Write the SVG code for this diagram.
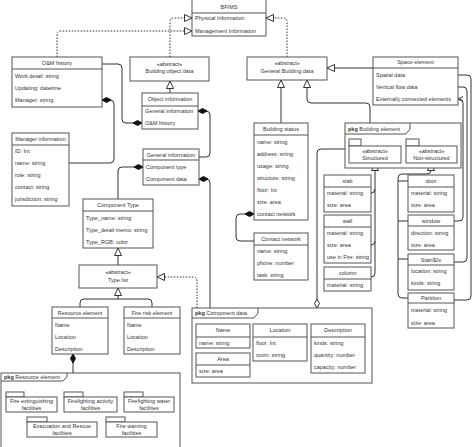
<svg xmlns="http://www.w3.org/2000/svg" width="474" height="447" viewBox="0 0 474 447">
<style>
.b{fill:#fff;stroke:#555;stroke-width:1}
.h{fill:none;stroke:#555;stroke-width:1}
.t{font-family:"Liberation Sans",Arial,sans-serif;font-size:5.5px;fill:#333}
.c{text-anchor:middle}
.k{font-weight:bold}
.ln{fill:none;stroke:#333;stroke-width:1}
.d{stroke-dasharray:1.5,1.5}
.ti{marker-end:url(#tri)}
.di{marker-start:url(#dia)}
</style>
<defs>
<marker id="tri" markerUnits="userSpaceOnUse" markerWidth="10" markerHeight="9" viewBox="0 0 10 9" refX="8.5" refY="4.5" orient="auto"><path d="M1,1 L8.5,4.5 L1,8 Z" fill="#fff" stroke="#333" stroke-width="1"/></marker>
<marker id="dia" markerUnits="userSpaceOnUse" markerWidth="11" markerHeight="7" viewBox="0 0 11 7" refX="0.5" refY="3.5" orient="auto"><path d="M0.5,3.5 L5,1 L9.5,3.5 L5,6 Z" fill="#111" stroke="#111" stroke-width="1"/></marker>
<marker id="odia" markerUnits="userSpaceOnUse" markerWidth="11" markerHeight="7" viewBox="0 0 11 7" refX="0.5" refY="3.5" orient="auto"><path d="M0.5,3.5 L5,1 L9.5,3.5 L5,6 Z" fill="#fff" stroke="#333" stroke-width="1"/></marker>
<marker id="arr" markerUnits="userSpaceOnUse" markerWidth="8" markerHeight="8" viewBox="0 0 8 8" refX="7" refY="4" orient="auto"><path d="M2,1.5 L7,4 L2,6.5" fill="none" stroke="#333" stroke-width="1"/></marker>
</defs>

<g id="connectors">
<path class="ln d ti" d="M57,57 V35 Q57,31 61,31 H192"/>
<path class="ln d ti" d="M170,57 V22 Q170,18 174,18 H192"/>
<path class="ln d ti" d="M287,57 V22 Q287,18 283,18 H266"/>
<path class="ln ti" d="M170,93 V81"/>
<path class="ln di" d="M142,123 H126 Q122,123 122,119 V68 Q122,64 118,64 H102"/>
<path class="ln di" d="M102,100 H110 Q114,100 114,104 V159 Q114,163 110,163 H69"/>
<path class="ln di" d="M198,111 H206 Q210,111 210,115 V153 Q210,157 206,157 H199"/>
<path class="ln di" d="M143,167 H122 Q118,167 118,171 V199"/>
<path class="ln di" d="M199,179 H206 Q210,179 210,183 V308"/>
<path class="ln ti" d="M118,265 V248"/>
<path class="ln" d="M80,307 V303 Q80,299 84,299 H148 Q152,299 152,303 V307"/>
<path class="ln ti" d="M118,299 V288"/>
<path class="ln d ti" d="M197,308 V281 Q197,277 193,277 H157"/>
<path class="ln di" d="M73,354 V373"/>
<path class="ln ti" d="M373,68 H327"/>
<path class="ln ti" d="M281,123 V80"/>
<path class="ln ti" d="M370,123 V107 Q370,103 366,103 H311 Q307,103 307,99 V80"/>
<path class="ln di" d="M254,214 H240 Q236,214 236,218 V237 Q236,241 240,241 H254"/>
<path class="ln" style="marker-start:url(#odia)" d="M317,308 V153 Q317,149 321,149 H345"/>
<path class="ln ti" d="M371,277 Q375,277 375,273 V163"/>
<path class="ln" d="M371,193 Q375,193 375,189"/>
<path class="ln" d="M371,245 Q375,245 375,241"/>
<path class="ln ti" d="M408,298 H402 Q398,298 398,294 V178 Q398,174 402,174 H427 Q431,174 431,170 V163"/>
<path class="ln" d="M398,181 H408"/>
<path class="ln" d="M398,221 H408"/>
<path class="ln" d="M398,259 H408"/>
<path class="ln" style="marker-end:url(#arr)" d="M454,221 H459 Q463,221 463,217 V103 Q463,99 459,99 H458"/>
<path class="ln" d="M454,262 H463 Q467,262 467,258 V91 Q467,87 463,87 H458"/>
<path class="ln" d="M454,300 H467 Q471,300 471,296 V79 Q471,75 467,75 H458"/>
</g>

<g id="bfims">
<rect class="b" x="192" y="-1" width="74" height="37"/>
<line class="h" x1="192" y1="13" x2="266" y2="13"/>
<text class="t c" x="229" y="9">BFIMS</text>
<text class="t" x="195" y="20">Physical Information</text>
<text class="t" x="195" y="33">Management Information</text>
</g>

<g id="om-history">
<rect class="b" x="12" y="57" width="90" height="50"/>
<line class="h" x1="12" y1="69" x2="102" y2="69"/>
<text class="t c" x="57" y="65">O&amp;M history</text>
<text class="t" x="15" y="78">Work detail: string</text>
<text class="t" x="15" y="90">Updating: datetime</text>
<text class="t" x="15" y="102">Manager: string</text>
</g>

<g id="building-object-data">
<rect class="b" x="130" y="57" width="79" height="24"/>
<text class="t c" x="169.5" y="66">«abstract»</text>
<text class="t c" x="169.5" y="73">Building object data</text>
</g>

<g id="object-information">
<rect class="b" x="142" y="93" width="56" height="36"/>
<line class="h" x1="142" y1="106" x2="198" y2="106"/>
<text class="t c" x="170" y="101">Object information</text>
<text class="t" x="145" y="113">General information</text>
<text class="t" x="145" y="125">O&amp;M history</text>
</g>

<g id="manager-information">
<rect class="b" x="12" y="133" width="57" height="73"/>
<line class="h" x1="12" y1="145" x2="69" y2="145"/>
<text class="t c" x="40.5" y="141">Manager information</text>
<text class="t" x="15" y="153">ID: Int</text>
<text class="t" x="15" y="165">name: string</text>
<text class="t" x="15" y="177">role: string</text>
<text class="t" x="15" y="189">contact: string</text>
<text class="t" x="15" y="201">jurisdiction: string</text>
</g>

<g id="general-information">
<rect class="b" x="143" y="149" width="56" height="36"/>
<line class="h" x1="143" y1="160" x2="199" y2="160"/>
<text class="t c" x="171" y="157">General information</text>
<text class="t" x="146" y="169">Component type</text>
<text class="t" x="146" y="181">Component data</text>
</g>

<g id="component-type">
<rect class="b" x="83" y="199" width="70" height="49"/>
<line class="h" x1="83" y1="211" x2="153" y2="211"/>
<text class="t c" x="118" y="207">Component Type</text>
<text class="t" x="86" y="220">Type_name: string</text>
<text class="t" x="86" y="232">Type_detail memo: string</text>
<text class="t" x="86" y="244">Type_RGB: color</text>
</g>

<g id="type-list">
<rect class="b" x="79" y="265" width="78" height="23"/>
<text class="t c" x="118" y="274">«abstract»</text>
<text class="t c" x="118" y="282">Type list</text>
</g>

<g id="resource-element">
<rect class="b" x="52" y="307" width="56" height="47"/>
<line class="h" x1="52" y1="318" x2="108" y2="318"/>
<text class="t c" x="80" y="315">Resource element</text>
<text class="t" x="55" y="327">Name</text>
<text class="t" x="55" y="339">Location</text>
<text class="t" x="55" y="351">Description</text>
</g>

<g id="fire-risk-element">
<rect class="b" x="124" y="307" width="56" height="47"/>
<line class="h" x1="124" y1="318" x2="180" y2="318"/>
<text class="t c" x="152" y="315">Fire risk element</text>
<text class="t" x="127" y="327">Name</text>
<text class="t" x="127" y="339">Location</text>
<text class="t" x="127" y="351">Description</text>
</g>

<g id="pkg-resource-element">
<rect class="b" x="1" y="373" width="179" height="80"/>
<path class="h" d="M1,381 H63 L67,377 V373"/>
<text class="t" x="4" y="379"><tspan class="k">pkg</tspan> Resource element</text>
<rect class="b" x="6" y="392" width="18" height="5"/>
<rect class="b" x="6" y="397" width="51" height="15"/>
<text class="t c" x="31.5" y="403">Fire extinguishing</text>
<text class="t c" x="31.5" y="410">facilities</text>
<rect class="b" x="64" y="392" width="19" height="5"/>
<rect class="b" x="64" y="397" width="53" height="15"/>
<text class="t c" x="90.5" y="403">Firefighting activity</text>
<text class="t c" x="90.5" y="410">facilities</text>
<rect class="b" x="124" y="392" width="19" height="5"/>
<rect class="b" x="124" y="397" width="50" height="15"/>
<text class="t c" x="149" y="403">Firefighting water</text>
<text class="t c" x="149" y="410">facilities</text>
<rect class="b" x="27" y="417" width="20" height="5"/>
<rect class="b" x="27" y="422" width="70" height="15"/>
<text class="t c" x="62" y="428">Evacuation and Rescue</text>
<text class="t c" x="62" y="435">facilities</text>
<rect class="b" x="106" y="417" width="19" height="5"/>
<rect class="b" x="106" y="422" width="51" height="15"/>
<text class="t c" x="131.5" y="428">Fire warning</text>
<text class="t c" x="131.5" y="435">facilities</text>
</g>

<g id="pkg-component-data">
<rect class="b" x="192" y="308" width="180" height="75"/>
<path class="h" d="M192,318 H254 L258,313 V308"/>
<text class="t" x="195" y="315"><tspan class="k">pkg</tspan> Component data</text>
<rect class="b" x="196" y="324" width="54" height="24"/>
<line class="h" x1="196" y1="337" x2="250" y2="337"/>
<text class="t c" x="223" y="332">Name</text>
<text class="t" x="199" y="345">name: string</text>
<rect class="b" x="196" y="353" width="54" height="24"/>
<line class="h" x1="196" y1="365" x2="250" y2="365"/>
<text class="t c" x="223" y="361">Area</text>
<text class="t" x="199" y="373">size: area</text>
<rect class="b" x="253" y="324" width="54" height="37"/>
<line class="h" x1="253" y1="337" x2="307" y2="337"/>
<text class="t c" x="280" y="332">Location</text>
<text class="t" x="256" y="345">floor: Int</text>
<text class="t" x="256" y="357">room: string</text>
<rect class="b" x="311" y="324" width="54" height="49"/>
<line class="h" x1="311" y1="337" x2="365" y2="337"/>
<text class="t c" x="338" y="332">Description</text>
<text class="t" x="314" y="345">kinds: string</text>
<text class="t" x="314" y="357">quantity: number</text>
<text class="t" x="314" y="369">capacity: number</text>
</g>

<g id="general-building-data">
<rect class="b" x="247" y="57" width="80" height="23"/>
<text class="t c" x="287" y="65">«abstract»</text>
<text class="t c" x="287" y="73">General Building data</text>
</g>

<g id="space-element">
<rect class="b" x="373" y="57" width="85" height="48"/>
<line class="h" x1="373" y1="68" x2="458" y2="68"/>
<text class="t c" x="415.5" y="64">Space element</text>
<text class="t" x="376" y="77">Spatial data</text>
<text class="t" x="376" y="89">Vertical flow data</text>
<text class="t" x="376" y="101">Externally connected elements</text>
</g>

<g id="building-status">
<rect class="b" x="254" y="123" width="54" height="97"/>
<line class="h" x1="254" y1="135" x2="308" y2="135"/>
<text class="t c" x="281" y="131">Building status</text>
<text class="t" x="257" y="144">name: string</text>
<text class="t" x="257" y="156">address: string</text>
<text class="t" x="257" y="168">usage: string</text>
<text class="t" x="257" y="180">structure: string</text>
<text class="t" x="257" y="192">floor: Int</text>
<text class="t" x="257" y="204">size: area</text>
<text class="t" x="257" y="216">contact network</text>
</g>

<g id="contact-network">
<rect class="b" x="254" y="233" width="54" height="47"/>
<line class="h" x1="254" y1="245" x2="308" y2="245"/>
<text class="t c" x="281" y="241">Contact network</text>
<text class="t" x="257" y="253">name: string</text>
<text class="t" x="257" y="265">phone: number</text>
<text class="t" x="257" y="277">task: string</text>
</g>

<g id="pkg-building-element">
<rect class="b" x="345" y="123" width="116" height="45"/>
<path class="h" d="M345,134 H406 L410,129 V123"/>
<text class="t" x="348" y="131"><tspan class="k">pkg</tspan> Building element</text>
<rect class="b" x="349" y="139" width="12" height="7"/>
<rect class="b" x="349" y="146" width="52" height="17"/>
<text class="t c" x="375" y="153">«abstract»</text>
<text class="t c" x="375" y="160">Structured</text>
<rect class="b" x="406" y="139" width="13" height="7"/>
<rect class="b" x="406" y="146" width="51" height="17"/>
<text class="t c" x="431.5" y="153">«abstract»</text>
<text class="t c" x="431.5" y="160">Non-structured</text>
</g>

<g id="slab">
<rect class="b" x="324" y="175" width="47" height="37"/>
<line class="h" x1="324" y1="187" x2="371" y2="187"/>
<text class="t c" x="347.5" y="183">slab</text>
<text class="t" x="327" y="195">material: string</text>
<text class="t" x="327" y="207">size: area</text>
</g>

<g id="wall">
<rect class="b" x="324" y="215" width="47" height="48"/>
<line class="h" x1="324" y1="227" x2="371" y2="227"/>
<text class="t c" x="347.5" y="223">wall</text>
<text class="t" x="327" y="235">material: string</text>
<text class="t" x="327" y="247">size: area</text>
<text class="t" x="327" y="259">use in Fire: string</text>
</g>

<g id="column">
<rect class="b" x="324" y="267" width="47" height="24"/>
<line class="h" x1="324" y1="279" x2="371" y2="279"/>
<text class="t c" x="347.5" y="275">column</text>
<text class="t" x="327" y="287">material: string</text>
</g>

<g id="door">
<rect class="b" x="408" y="175" width="46" height="37"/>
<line class="h" x1="408" y1="187" x2="454" y2="187"/>
<text class="t c" x="431" y="183">door</text>
<text class="t" x="411" y="195">material: string</text>
<text class="t" x="411" y="207">size: area</text>
</g>

<g id="window">
<rect class="b" x="408" y="215" width="46" height="35"/>
<line class="h" x1="408" y1="226" x2="454" y2="226"/>
<text class="t c" x="431" y="223">window</text>
<text class="t" x="411" y="235">direction: string</text>
<text class="t" x="411" y="247">size: area</text>
</g>

<g id="stair-elv">
<rect class="b" x="408" y="254" width="46" height="36"/>
<line class="h" x1="408" y1="265" x2="454" y2="265"/>
<text class="t c" x="431" y="262">Stair/Elv</text>
<text class="t" x="411" y="273">location: string</text>
<text class="t" x="411" y="285">kinds: string</text>
</g>

<g id="partition">
<rect class="b" x="408" y="293" width="46" height="35"/>
<line class="h" x1="408" y1="303" x2="454" y2="303"/>
<text class="t c" x="431" y="300">Partition</text>
<text class="t" x="411" y="312">material: string</text>
<text class="t" x="411" y="325">size: area</text>
</g>
</svg>
